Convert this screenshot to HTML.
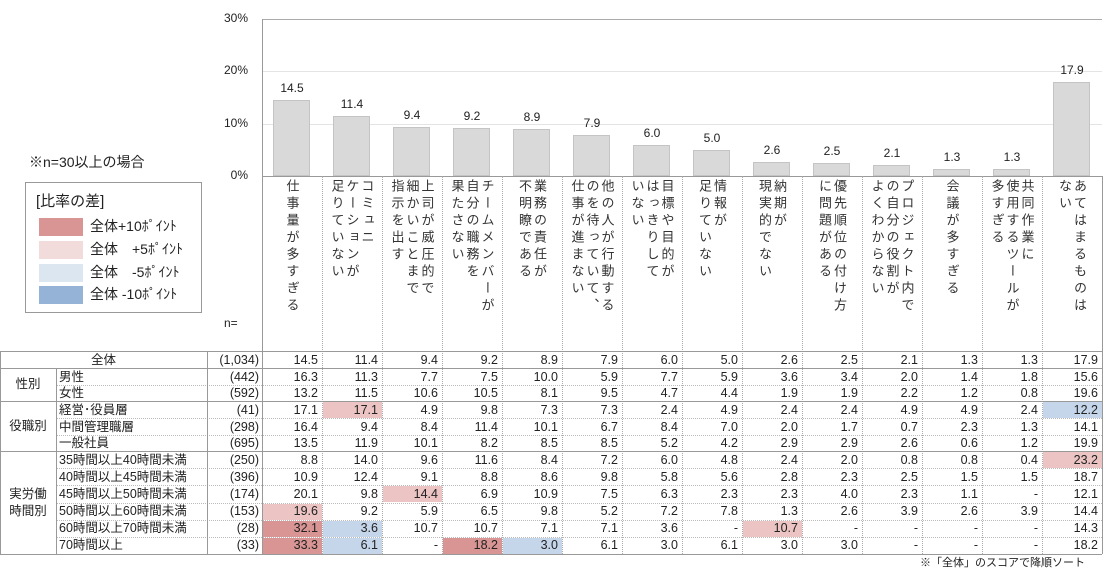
<!DOCTYPE html>
<html><head><meta charset="utf-8">
<style>
body{margin:0;background:#fff;}
#c{position:relative;width:1104px;height:573px;overflow:hidden;font-family:"Liberation Sans","Noto Sans CJK JP",sans-serif;color:#222;}
.a{position:absolute;}
.t{position:absolute;font-size:12px;line-height:14px;white-space:nowrap;}
.v{position:absolute;writing-mode:vertical-rl;font-size:13px;line-height:15px;letter-spacing:4px;white-space:pre;color:#333;}
</style></head><body>
<div id="c">
<div class="t" style="left:29px;top:155px;font-size:14px;">※n=30以上の場合</div>
<div class="a" style="left:25px;top:182px;width:175px;height:129px;border:1.5px solid #999;"></div>
<div class="t" style="left:36px;top:195px;font-size:15px;">[比率の差]</div>
<div class="a" style="left:39px;top:218px;width:44px;height:18px;background:#d99594"></div>
<div class="a" style="left:39px;top:241px;width:44px;height:18px;background:#f2dcdb"></div>
<div class="a" style="left:39px;top:264px;width:44px;height:18px;background:#dce6f1"></div>
<div class="a" style="left:39px;top:286px;width:44px;height:18px;background:#95b3d7"></div>
<div class="t" style="left:90px;top:219px;font-size:14px;">全体+10ﾎﾟｲﾝﾄ</div>
<div class="t" style="left:90px;top:242px;font-size:14px;">全体　+5ﾎﾟｲﾝﾄ</div>
<div class="t" style="left:90px;top:265px;font-size:14px;">全体　-5ﾎﾟｲﾝﾄ</div>
<div class="t" style="left:90px;top:287px;font-size:14px;">全体 -10ﾎﾟｲﾝﾄ</div>
<div class="t" style="left:224px;top:316px;">n=</div>
<div class="t" style="left:920px;top:556px;font-size:11px;">※「全体」のスコアで降順ソート</div>
</div>
<script>
var c=document.getElementById('c');
function add(h){c.insertAdjacentHTML('beforeend',h);}
var X0=262,CW=60,Y0=176,S=5.23;
[0,10,20,30].forEach(function(p){var y=Y0-p*S;
 add('<div class="t" style="left:222px;top:'+(y-8)+'px;width:26px;text-align:right">'+p+'%</div>');
 if(p>0)add('<div class="a" style="left:262px;top:'+y+'px;width:840px;height:1px;background:#e4e4e4"></div>');});
add('<div class="a" style="left:262px;top:19px;width:840px;height:1px;background:#aaa"></div>');
add('<div class="a" style="left:262px;top:176px;width:840px;height:1px;background:#999"></div>');
var vals=[14.5,11.4,9.4,9.2,8.9,7.9,6.0,5.0,2.6,2.5,2.1,1.3,1.3,17.9];
vals.forEach(function(v,i){var h=v*S,x=X0+i*CW+11;
 add('<div class="a" style="left:'+x+'px;top:'+(Y0-h)+'px;width:37px;height:'+h+'px;background:#d9d9d9;border:1px solid #c4c4c4;box-sizing:border-box"></div>');
 add('<div class="t" style="left:'+(X0+i*CW)+'px;top:'+(Y0-h-19)+'px;width:60px;text-align:center">'+v.toFixed(1)+'</div>');});
var heads=["仕事量が多すぎる","コミュニ\nケーションが\n足りていない","上司が威圧的で\n細かいことまで\n指示を出す","チームメンバーが\n自分の職務を\n果たさない","業務の責任が\n不明瞭である","他の人が行動する\nのを待っていて、\n仕事が進まない","目標や目的が\nはっきりして\nいない","情報が\n足りていない","納期が\n現実的でない","優先順位の付け方\nに問題がある","プロジェクト内で\nの自分の役割が\nよくわからない","会議が多すぎる","共同作業に\n使用するツールが\n多すぎる","あてはまるものは\nない"];
heads.forEach(function(h,i){var n=h.split('\n').length,w=n*15;
 add('<div class="v" style="left:'+(X0+i*CW+30-w/2)+'px;top:179px;height:170px;width:'+w+'px">'+h+'</div>');});
for(var i=0;i<=14;i++){var x=X0+i*CW;
 var solid=(i==0||i==14);
 add('<div class="a" style="left:'+x+'px;top:'+(i==0?19:176)+'px;height:'+(i==0?535:378)+'px;border-left:1px '+(solid?'solid #999':'dotted #aaa')+'"></div>');}
var rows=[
["全体","(1,034)","14.5 11.4 9.4 9.2 8.9 7.9 6.0 5.0 2.6 2.5 2.1 1.3 1.3 17.9"],
["男性","(442)","16.3 11.3 7.7 7.5 10.0 5.9 7.7 5.9 3.6 3.4 2.0 1.4 1.8 15.6"],
["女性","(592)","13.2 11.5 10.6 10.5 8.1 9.5 4.7 4.4 1.9 1.9 2.2 1.2 0.8 19.6"],
["経営･役員層","(41)","17.1 17.1 4.9 9.8 7.3 7.3 2.4 4.9 2.4 2.4 4.9 4.9 2.4 12.2"],
["中間管理職層","(298)","16.4 9.4 8.4 11.4 10.1 6.7 8.4 7.0 2.0 1.7 0.7 2.3 1.3 14.1"],
["一般社員","(695)","13.5 11.9 10.1 8.2 8.5 8.5 5.2 4.2 2.9 2.9 2.6 0.6 1.2 19.9"],
["35時間以上40時間未満","(250)","8.8 14.0 9.6 11.6 8.4 7.2 6.0 4.8 2.4 2.0 0.8 0.8 0.4 23.2"],
["40時間以上45時間未満","(396)","10.9 12.4 9.1 8.8 8.6 9.8 5.8 5.6 2.8 2.3 2.5 1.5 1.5 18.7"],
["45時間以上50時間未満","(174)","20.1 9.8 14.4 6.9 10.9 7.5 6.3 2.3 2.3 4.0 2.3 1.1 - 12.1"],
["50時間以上60時間未満","(153)","19.6 9.2 5.9 6.5 9.8 5.2 7.2 7.8 1.3 2.6 3.9 2.6 3.9 14.4"],
["60時間以上70時間未満","(28)","32.1 3.6 10.7 10.7 7.1 7.1 3.6 - 10.7 - - - - 14.3"],
["70時間以上","(33)","33.3 6.1 - 18.2 3.0 6.1 3.0 6.1 3.0 3.0 - - - 18.2"]];
var ys=[351,368,384.5,401,418,434.5,451,468.2,485.3,502.5,519.7,536.8,554];
var R='#d99594',r='#ebc4c3',b='#c5d5ea';
var col={"3,1":r,"3,13":b,"6,13":r,"8,2":r,"9,0":r,"10,0":R,"10,1":b,"10,8":r,"11,0":R,"11,1":b,"11,3":R,"11,4":b};
rows.forEach(function(rw,k){var y=ys[k],h=ys[k+1]-y;
 rw[2].split(' ').forEach(function(v,i){var bg=col[k+','+i];
  if(bg)add('<div class="a" style="left:'+(X0+i*CW+1)+'px;top:'+(y+1)+'px;width:59px;height:'+(h-1)+'px;background:'+bg+'"></div>');
  add('<div class="t" style="left:'+(X0+i*CW)+'px;top:'+(y+1.5)+'px;width:56px;text-align:right;font-size:12.5px">'+v+'</div>');});
 if(k==0)add('<div class="t" style="left:0;top:'+(y+1.5)+'px;width:207px;text-align:center;font-size:12.5px">全体</div>');
 else add('<div class="t" style="left:59px;top:'+(y+1.5)+'px;font-size:12.5px">'+rw[0]+'</div>');
 add('<div class="t" style="left:207px;top:'+(y+1.5)+'px;width:52px;text-align:right;font-size:12.5px">'+rw[1]+'</div>');
 var solidL=[0,1,3,6,12].indexOf(k)>=0;
 add('<div class="a" style="left:'+(solidL||k==12?0:56)+'px;top:'+y+'px;width:'+(solidL?1102:1046)+'px;border-top:1px '+(solidL?'solid #999':'dotted #bbb')+'"></div>');
});
add('<div class="a" style="left:0;top:554px;width:1102px;border-top:1px solid #999"></div>');
add('<div class="a" style="left:0;top:351px;height:203px;border-left:1px solid #999"></div>');
add('<div class="a" style="left:56px;top:368px;height:186px;border-left:1px solid #999"></div>');
add('<div class="a" style="left:207px;top:351px;height:203px;border-left:1px solid #999"></div>');
add('<div class="t" style="left:0;top:377px;width:56px;text-align:center;font-size:12.5px">性別</div>');
add('<div class="t" style="left:0;top:419px;width:56px;text-align:center;font-size:12.5px">役職別</div>');
add('<div class="t" style="left:0;top:486px;width:56px;text-align:center;font-size:12.5px;line-height:17px;white-space:normal">実労働<br>時間別</div>');
</script>
</body></html>
